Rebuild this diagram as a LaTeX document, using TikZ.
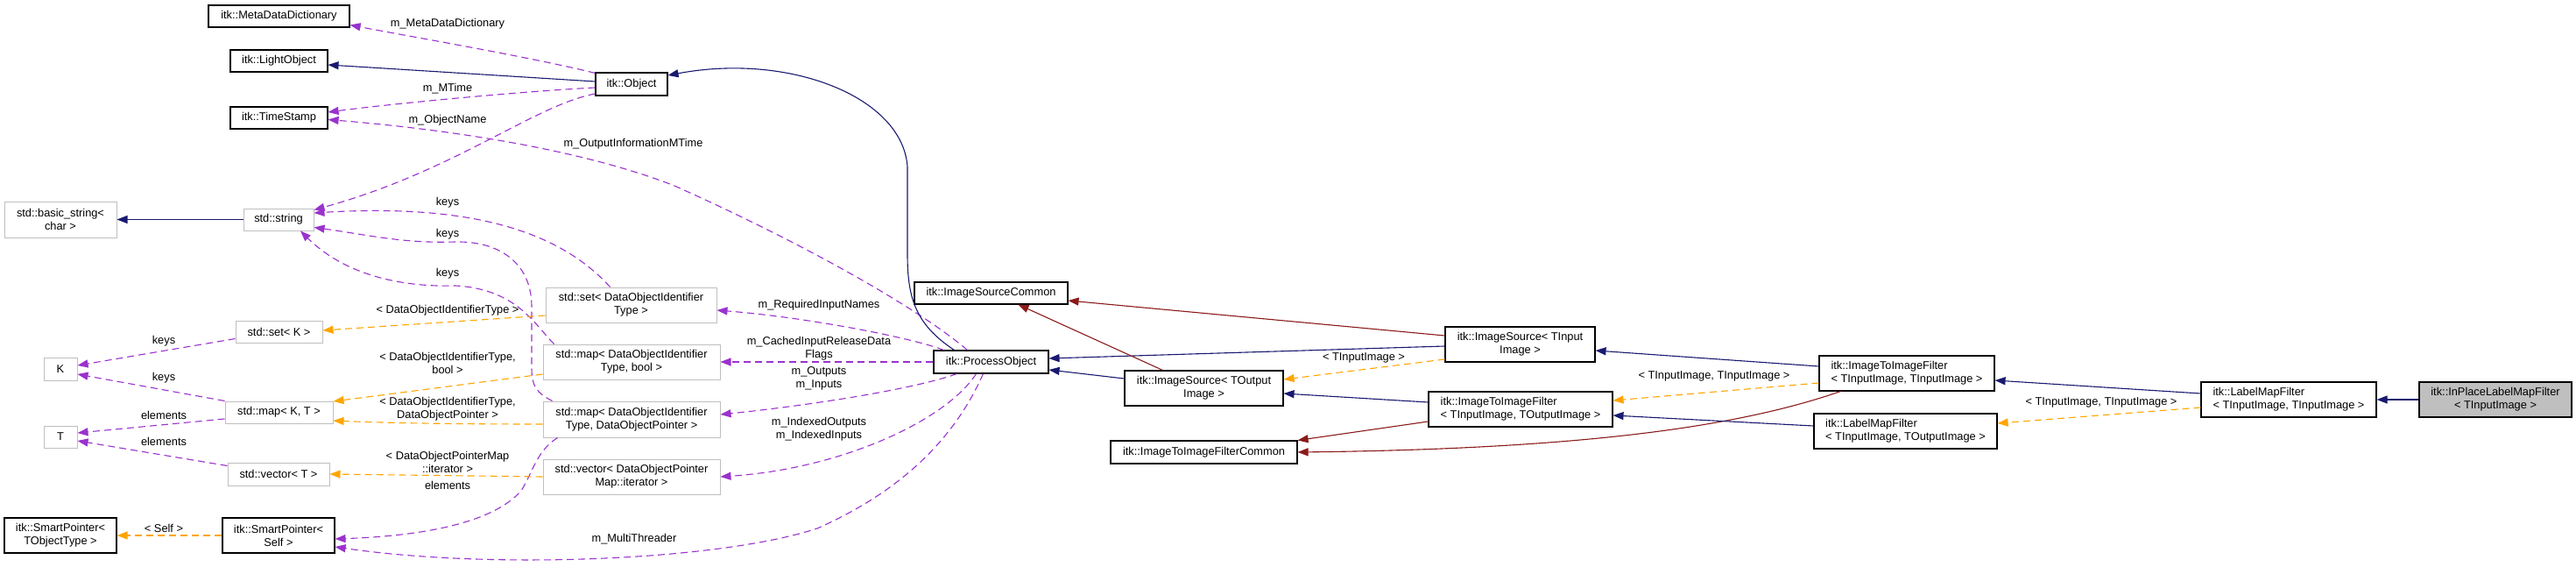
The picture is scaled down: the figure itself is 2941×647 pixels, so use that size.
\documentclass[tikz,border=0pt]{standalone}
\usepackage{fontspec}
\setmainfont{Liberation Sans}
\usetikzlibrary{arrows.meta,calc}
\definecolor{inhc}{HTML}{191970}
\definecolor{privc}{HTML}{8B1A1A}
\definecolor{usec}{HTML}{9A32CD}
\definecolor{tmplc}{HTML}{FFA500}
\definecolor{gborder}{HTML}{BFBFBF}
\definecolor{rootfill}{HTML}{BFBFBF}
\newcommand\dfont{\fontsize{12.8}{15}\selectfont}
\tikzset{
  box/.style={draw=black, line width=1.1pt, fill=white, inner sep=0pt, align=center, font=\dfont},
  gbox/.style={box, draw=gborder, line width=1pt},
  lbl/.style={font=\dfont, inner sep=0pt, align=center},
  tipx/.style={-{Triangle[length=12pt,width=9pt]}},
  inh/.style={draw=inhc, line width=1.1pt, tipx},
  priv/.style={draw=privc, line width=1.1pt, tipx},
  use/.style={draw=usec, line width=1.1pt, dash pattern=on 8pt off 5pt, tipx},
  tmpl/.style={draw=tmplc, line width=1.1pt, dash pattern=on 8pt off 5pt, tipx},
}
\begin{document}
\begin{tikzpicture}[x=1pt,y=-1pt]
\fill[white] (0,0) rectangle (2941,647);
\useasboundingbox (0,0) rectangle (2941,647);

% ---------- nodes ----------
\node[box, minimum width=161pt, minimum height=25pt] (mdd) at (318.5,18.5) {itk::MetaDataDictionary};
\node[box, minimum width=111pt, minimum height=25pt] (lo) at (318.5,69.5) {itk::LightObject};
\node[box, minimum width=111pt, minimum height=25pt] (ts) at (318.5,134.5) {itk::TimeStamp};
\node[gbox, minimum width=128pt, minimum height=41pt] (bs) at (69,250.5) {std::basic\_string\textless\\ char \textgreater};
\node[gbox, minimum width=80pt, minimum height=25pt] (str) at (318,250.5) {std::string};
\node[gbox, minimum width=99pt, minimum height=25pt] (setk) at (318.5,378.5) {std::set\textless\ K \textgreater};
\node[gbox, minimum width=38pt, minimum height=26pt] (K) at (69,421) {K};
\node[gbox, minimum width=123pt, minimum height=25pt] (mapkt) at (318.5,470.5) {std::map\textless\ K, T \textgreater};
\node[gbox, minimum width=38pt, minimum height=25pt] (T) at (69,498.5) {T};
\node[gbox, minimum width=116pt, minimum height=26pt] (vect) at (318,541) {std::vector\textless\ T \textgreater};
\node[box, minimum width=128pt, minimum height=40pt] (sptot) at (69,611) {itk::SmartPointer\textless\\ TObjectType \textgreater};
\node[box, minimum width=128pt, minimum height=40pt] (spself) at (318,611) {itk::SmartPointer\textless\\ Self \textgreater};
\node[box, minimum width=82pt, minimum height=26pt] (obj) at (721,96) {itk::Object};
\node[gbox, minimum width=195pt, minimum height=40pt] (setdoit) at (720.5,348) {std::set\textless\ DataObjectIdentifier\\ Type \textgreater};
\node[gbox, minimum width=202pt, minimum height=40pt] (mapbool) at (721,413) {std::map\textless\ DataObjectIdentifier\\ Type, bool \textgreater};
\node[gbox, minimum width=202pt, minimum height=41pt] (mapdop) at (721,478.5) {std::map\textless\ DataObjectIdentifier\\ Type, DataObjectPointer \textgreater};
\node[gbox, minimum width=202pt, minimum height=40pt] (vecdop) at (721,544) {std::vector\textless\ DataObjectPointer\\ Map::iterator \textgreater};
\node[box, minimum width=175pt, minimum height=25pt] (isc) at (1131.5,334.5) {itk::ImageSourceCommon};
\node[box, minimum width=131pt, minimum height=26pt] (po) at (1131.5,413) {itk::ProcessObject};
\node[box, minimum width=181pt, minimum height=40pt] (iso) at (1374.5,443) {itk::ImageSource\textless\ TOutput\\ Image \textgreater};
\node[box, minimum width=213pt, minimum height=26pt] (itifc) at (1374.5,516) {itk::ImageToImageFilterCommon};
\node[box, minimum width=171pt, minimum height=40pt] (isi) at (1735.5,393) {itk::ImageSource\textless\ TInput\\ Image \textgreater};
\node[box, minimum width=210pt, minimum height=40pt, align=left] (itito) at (1736,467) {itk::ImageToImageFilter\\ \textless\ TInputImage, TOutputImage \textgreater};
\node[box, minimum width=200pt, minimum height=40pt, align=left] (ititi) at (2177,426) {itk::ImageToImageFilter\\ \textless\ TInputImage, TInputImage \textgreater};
\node[box, minimum width=209pt, minimum height=40pt, align=left] (lmfto) at (2175.5,492) {itk::LabelMapFilter\\ \textless\ TInputImage, TOutputImage \textgreater};
\node[box, minimum width=200pt, minimum height=40pt, align=left] (lmfti) at (2613,456) {itk::LabelMapFilter\\ \textless\ TInputImage, TInputImage \textgreater};
\node[box, fill=rootfill, minimum width=174pt, minimum height=40pt] (inplace) at (2849,456) {itk::InPlaceLabelMapFilter\\ \textless\ TInputImage \textgreater};

% ---------- edges around itk::Object ----------
\draw[use] ($(obj.north west)+(0,1)$) .. controls (610,66) and (470,42) .. ($(mdd.east)+(0,10)$);
\draw[inh] ($(obj.west)+(0,-3)$) -- ($(lo.east)+(0,4.5)$);
\draw[use] ($(obj.west)+(0,4)$) .. controls (600,104) and (450,118) .. ($(ts.east)+(0,-6.5)$);
\draw[use] ($(obj.west)+(0,11)$) .. controls (610,120) and (520,195) .. ($(str.east)+(0,-11)$);
\draw[inh] (str.west) -- (bs.east);

% ---------- edges from itk::ProcessObject ----------
\draw[use] ($(po.north west)+(39,0)$) .. controls (1040,345) and (900,270) .. (770,212) .. controls (650,165) and (480,145) .. ($(ts.east)+(0,2)$);
\draw[inh] ($(po.north west)+(24,0)$) .. controls (1045,370) and (1036,340) .. (1036,290) -- (1036,190) .. controls (1030,110) and (900,60) .. ($(obj.east)+(0,-10)$);
\draw[use] ($(po.north west)+(12,0)$) .. controls (1040,385) and (920,362) .. ($(setdoit.east)+(0,6)$);
\draw[use] (po.west) -- (mapbool.east);
\draw[use] ($(po.south west)+(27,0)$) .. controls (1040,445) and (920,463) .. ($(mapdop.east)+(0,-5.5)$);
\draw[use] ($(po.south west)+(49,0)$) .. controls (1080,480) and (960,535) .. (vecdop.east);
\draw[use] ($(po.south west)+(57,0)$) .. controls (1090,500) and (1030,560) .. (933,603) .. controls (820,640) and (560,650) .. ($(spself.east)+(0,13)$);

% ---------- container edges ----------
\draw[use] ($(mapdop.south west)+(17,0)$) .. controls (612,515) and (608,540) .. (595,560) .. controls (560,600) and (470,612) .. ($(spself.east)+(0,4)$);
\draw[use] ($(setdoit.north west)+(74,0)$) .. controls (640,265) and (540,232) .. ($(str.east)+(0,-7.5)$);
\draw[use] ($(mapdop.north west)+(11,0)$) .. controls (612,448) and (607,440) .. (607,420) -- (607,350) .. controls (607,300) and (570,275) .. (520,276) .. controls (460,278) and (420,268) .. ($(str.east)+(0,9)$);
\draw[use] ($(mapbool.north west)+(13,0)$) .. controls (610,370) and (590,330) .. (520,326) .. controls (450,328) and (390,310) .. ($(str.south)+(25,0)$);

\draw[use] ($(setk.west)+(0,8)$) -- ($(K.east)+(0,-4)$);
\draw[use] (mapkt.north west) -- ($(K.east)+(0,6)$);
\draw[use] ($(mapkt.west)+(0,7.5)$) -- ($(T.east)+(0,-4.5)$);
\draw[use] ($(vect.north west)+(0,4)$) -- ($(T.east)+(0,4.5)$);

\draw[tmpl] (spself.west) -- (sptot.east);
\draw[tmpl] ($(setdoit.west)+(0,12)$) -- ($(setk.east)+(0,-1.5)$);
\draw[tmpl] ($(mapbool.west)+(0,14)$) -- ($(mapkt.east)+(0,-12.5)$);
\draw[tmpl] ($(mapdop.west)+(0,5.5)$) .. controls (530,484) and (450,483) .. ($(mapkt.east)+(0,9.5)$);
\draw[tmpl] (vecdop.west) -- (vect.east);

% ---------- right side ----------
\draw[inh] ($(iso.west)+(0,-11)$) -- ($(po.east)+(0,9)$);
\draw[inh] ($(isi.west)+(0,2)$) -- ($(po.east)+(0,-4)$);
\draw[priv] ($(iso.north west)+(44,0)$) -- ($(isc.south)+(31,0)$);
\draw[priv] ($(isi.west)+(0,-10)$) -- ($(isc.east)+(0,8.5)$);
\draw[tmpl] ($(isi.west)+(0,17)$) -- ($(iso.east)+(0,-10)$);
\draw[inh] ($(itito.west)+(0,-8)$) -- ($(iso.east)+(0,6)$);
\draw[priv] ($(itito.west)+(0,14)$) -- (itifc.north east);
\draw[priv] ($(ititi.south west)+(25,0)$) .. controls (1990,485) and (1820,512) .. (itifc.east);
\draw[inh] ($(ititi.west)+(0,-8)$) -- ($(isi.east)+(0,7)$);
\draw[tmpl] ($(ititi.west)+(0,11)$) -- ($(itito.east)+(0,-10)$);
\draw[inh] ($(lmfto.west)+(0,-6)$) -- ($(itito.east)+(0,7)$);
\draw[inh] ($(lmfti.west)+(0,-7)$) -- ($(ititi.east)+(0,8)$);
\draw[tmpl] ($(lmfti.west)+(0,9)$) -- ($(lmfto.east)+(0,-9)$);
\draw[inh] (inplace.west) -- (lmfti.east);

% ---------- labels ----------
\node[lbl] (l1) at (511,27) {m\_MetaDataDictionary};
\node[lbl] (l2) at (511,101) {m\_MTime};
\node[lbl] (l3) at (511,137) {m\_ObjectName};
\node[lbl] (l4) at (723,164) {m\_OutputInformationMTime};
\node[lbl] (l5) at (511,231) {keys};
\node[lbl] (l6) at (511,267) {keys};
\node[lbl] (l7) at (511,312) {keys};
\node[lbl] (l8) at (511,354) {\textless\ DataObjectIdentifierType \textgreater};
\node[lbl] (l9) at (511,414) {\textless\ DataObjectIdentifierType,\\ bool \textgreater};
\node[lbl] (l10) at (511,467) {\textless\ DataObjectIdentifierType,\\ DataObjectPointer \textgreater};
\node[lbl] (l11) at (511,527) {\textless\ DataObjectPointerMap\\ ::iterator \textgreater};
\node[lbl] (l12) at (511,554) {elements};
\node[lbl] (l13) at (935,348) {m\_RequiredInputNames};
\node[lbl] (l14) at (935,398) {m\_CachedInputReleaseData\\ Flags};
\node[lbl] (l15) at (935,432) {m\_Outputs\\ m\_Inputs};
\node[lbl] (l16) at (935,490) {m\_IndexedOutputs\\ m\_IndexedInputs};
\node[lbl] (l17) at (724,615) {m\_MultiThreader};
\node[lbl] (l18) at (187,389) {keys};
\node[lbl] (l19) at (187,431) {keys};
\node[lbl] (l20) at (187,474) {elements};
\node[lbl] (l21) at (187,504) {elements};
\node[lbl] (l22) at (187,603) {\textless\ Self \textgreater};
\node[lbl] (l23) at (1557,408) {\textless\ TInputImage \textgreater};
\node[lbl] (l24) at (1957,429) {\textless\ TInputImage, TInputImage \textgreater};
\node[lbl] (l25) at (2399,459) {\textless\ TInputImage, TInputImage \textgreater};
\end{tikzpicture}
\end{document}
